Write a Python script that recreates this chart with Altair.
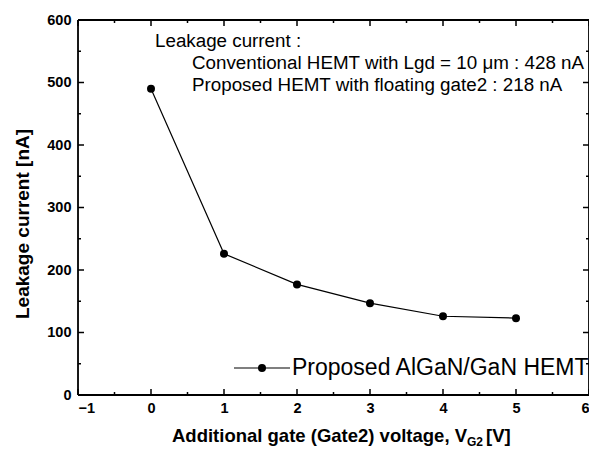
import altair as alt
import pandas as pd

# data
voltage = [0, 1, 2, 3, 4, 5]
leakage = [490, 226, 177, 147, 126, 123]

x_major = [-1, 0, 1, 2, 3, 4, 5, 6]
x_minor = [-0.5, 0.5, 1.5, 2.5, 3.5, 4.5, 5.5]
y_major = [0, 100, 200, 300, 400, 500, 600]
y_minor = [50, 150, 250, 350, 450, 550]

note_lines = [
    "Leakage current :",
    "Conventional HEMT with Lgd = 10 \u03bcm : 428 nA",
    "Proposed HEMT with floating gate2 : 218 nA",
]
legend_label = "Proposed AlGaN/GaN HEMT"
x_title = "Additional gate (Gate2) voltage, V"
x_title_sub = "G2"
x_title_end = "[V]"
y_title = "Leakage current [nA]"

W, H = 511, 375
FONT = "Liberation Sans"

df = pd.DataFrame({"v": voltage, "i": leakage})

xs = alt.Scale(domain=[-1, 6], nice=False)
ys = alt.Scale(domain=[0, 600], nice=False)

base = alt.Chart(df)

line = base.mark_line(color="black", strokeWidth=1.2).encode(
    x=alt.X("v:Q", scale=xs,
            axis=alt.Axis(values=x_major, format="d", ticks=False, domain=False, grid=False,
                          labelFont=FONT, labelFontSize=14.5, labelFontWeight="bold",
                          labelColor="black", labelPadding=6, title=None)),
    y=alt.Y("i:Q", scale=ys,
            axis=alt.Axis(values=y_major, format="d", ticks=False, domain=False, grid=False,
                          labelFont=FONT, labelFontSize=14.5, labelFontWeight="bold",
                          labelColor="black", labelPadding=7, title=None)),
)
points = base.mark_circle(color="black", opacity=1, size=64).encode(
    x=alt.X("v:Q", scale=xs), y=alt.Y("i:Q", scale=ys)
)

one = pd.DataFrame({"a": [0]})

# frame
frame = [
    alt.Chart(one).mark_rule(color="black", strokeWidth=1.8).encode(
        x=alt.value(0), x2=alt.value(W), y=alt.value(0)),
    alt.Chart(one).mark_rule(color="black", strokeWidth=1.8).encode(
        x=alt.value(0), x2=alt.value(W), y=alt.value(H)),
    alt.Chart(one).mark_rule(color="black", strokeWidth=1.8).encode(
        y=alt.value(0), y2=alt.value(H), x=alt.value(0)),
    alt.Chart(one).mark_rule(color="black", strokeWidth=1.8).encode(
        y=alt.value(0), y2=alt.value(H), x=alt.value(W)),
]

# tick marks (inward) on all four sides
def xticks(vals, length):
    d = pd.DataFrame({"t": vals})
    bottom = alt.Chart(d).mark_rule(color="black", strokeWidth=1.5).encode(
        x=alt.X("t:Q", scale=xs), y=alt.value(H), y2=alt.value(H - length))
    top = alt.Chart(d).mark_rule(color="black", strokeWidth=1.5).encode(
        x=alt.X("t:Q", scale=xs), y=alt.value(0), y2=alt.value(length))
    return [bottom, top]

def yticks(vals, length):
    d = pd.DataFrame({"t": vals})
    left = alt.Chart(d).mark_rule(color="black", strokeWidth=1.5).encode(
        y=alt.Y("t:Q", scale=ys), x=alt.value(0), x2=alt.value(length))
    right = alt.Chart(d).mark_rule(color="black", strokeWidth=1.5).encode(
        y=alt.Y("t:Q", scale=ys), x=alt.value(W), x2=alt.value(W - length))
    return [left, right]

tick_layers = xticks(x_major, 6) + xticks(x_minor, 3) + yticks(y_major, 6) + yticks(y_minor, 3)

# annotation text
notes_df = pd.DataFrame({"t": note_lines, "x": [77, 114, 114], "y": [21, 43, 65]})
notes = alt.Chart(notes_df).mark_text(
    font=FONT, fontSize=18.8, align="left", baseline="middle", color="black"
).encode(text="t:N", x=alt.X("x:Q", scale=None), y=alt.Y("y:Q", scale=None))

# legend
leg_line = alt.Chart(one).mark_rule(color="black", strokeWidth=1.2).encode(
    x=alt.value(156), x2=alt.value(212), y=alt.value(348))
leg_pt = alt.Chart(one).mark_circle(color="black", opacity=1, size=64).encode(
    x=alt.value(184), y=alt.value(348))
leg_txt = alt.Chart(pd.DataFrame({"t": [legend_label]})).mark_text(
    font=FONT, fontSize=23, align="left", baseline="middle", color="black"
).encode(text="t:N", x=alt.value(214), y=alt.value(348))

# axis titles
ytitle = alt.Chart(pd.DataFrame({"t": [y_title]})).mark_text(
    font=FONT, fontSize=19, fontWeight="bold", angle=270, align="center",
    baseline="middle", color="black"
).encode(text="t:N", x=alt.value(-55), y=alt.value(204))

xt1 = alt.Chart(pd.DataFrame({"t": [x_title]})).mark_text(
    font=FONT, fontSize=18.5, fontWeight="bold", align="right", baseline="middle", color="black"
).encode(text="t:N", x=alt.value(389), y=alt.value(416))
xt2 = alt.Chart(pd.DataFrame({"t": [x_title_sub]})).mark_text(
    font=FONT, fontSize=12, fontWeight="bold", align="left", baseline="middle", color="black"
).encode(text="t:N", x=alt.value(389), y=alt.value(422))
xt3 = alt.Chart(pd.DataFrame({"t": [x_title_end]})).mark_text(
    font=FONT, fontSize=18.5, fontWeight="bold", align="left", baseline="middle", color="black"
).encode(text="t:N", x=alt.value(408), y=alt.value(416))

chart = alt.layer(
    line, points, *frame, *tick_layers, notes, leg_line, leg_pt, leg_txt, ytitle, xt1, xt2, xt3
).properties(
    width=W, height=H,
    autosize=alt.AutoSizeParams(type="none"),
    padding={"left": 70, "top": 12, "right": 0, "bottom": 55},
).configure_view(stroke=None).configure(background="white")

chart.save("out.html", embed_options={"renderer": "svg", "actions": False})
